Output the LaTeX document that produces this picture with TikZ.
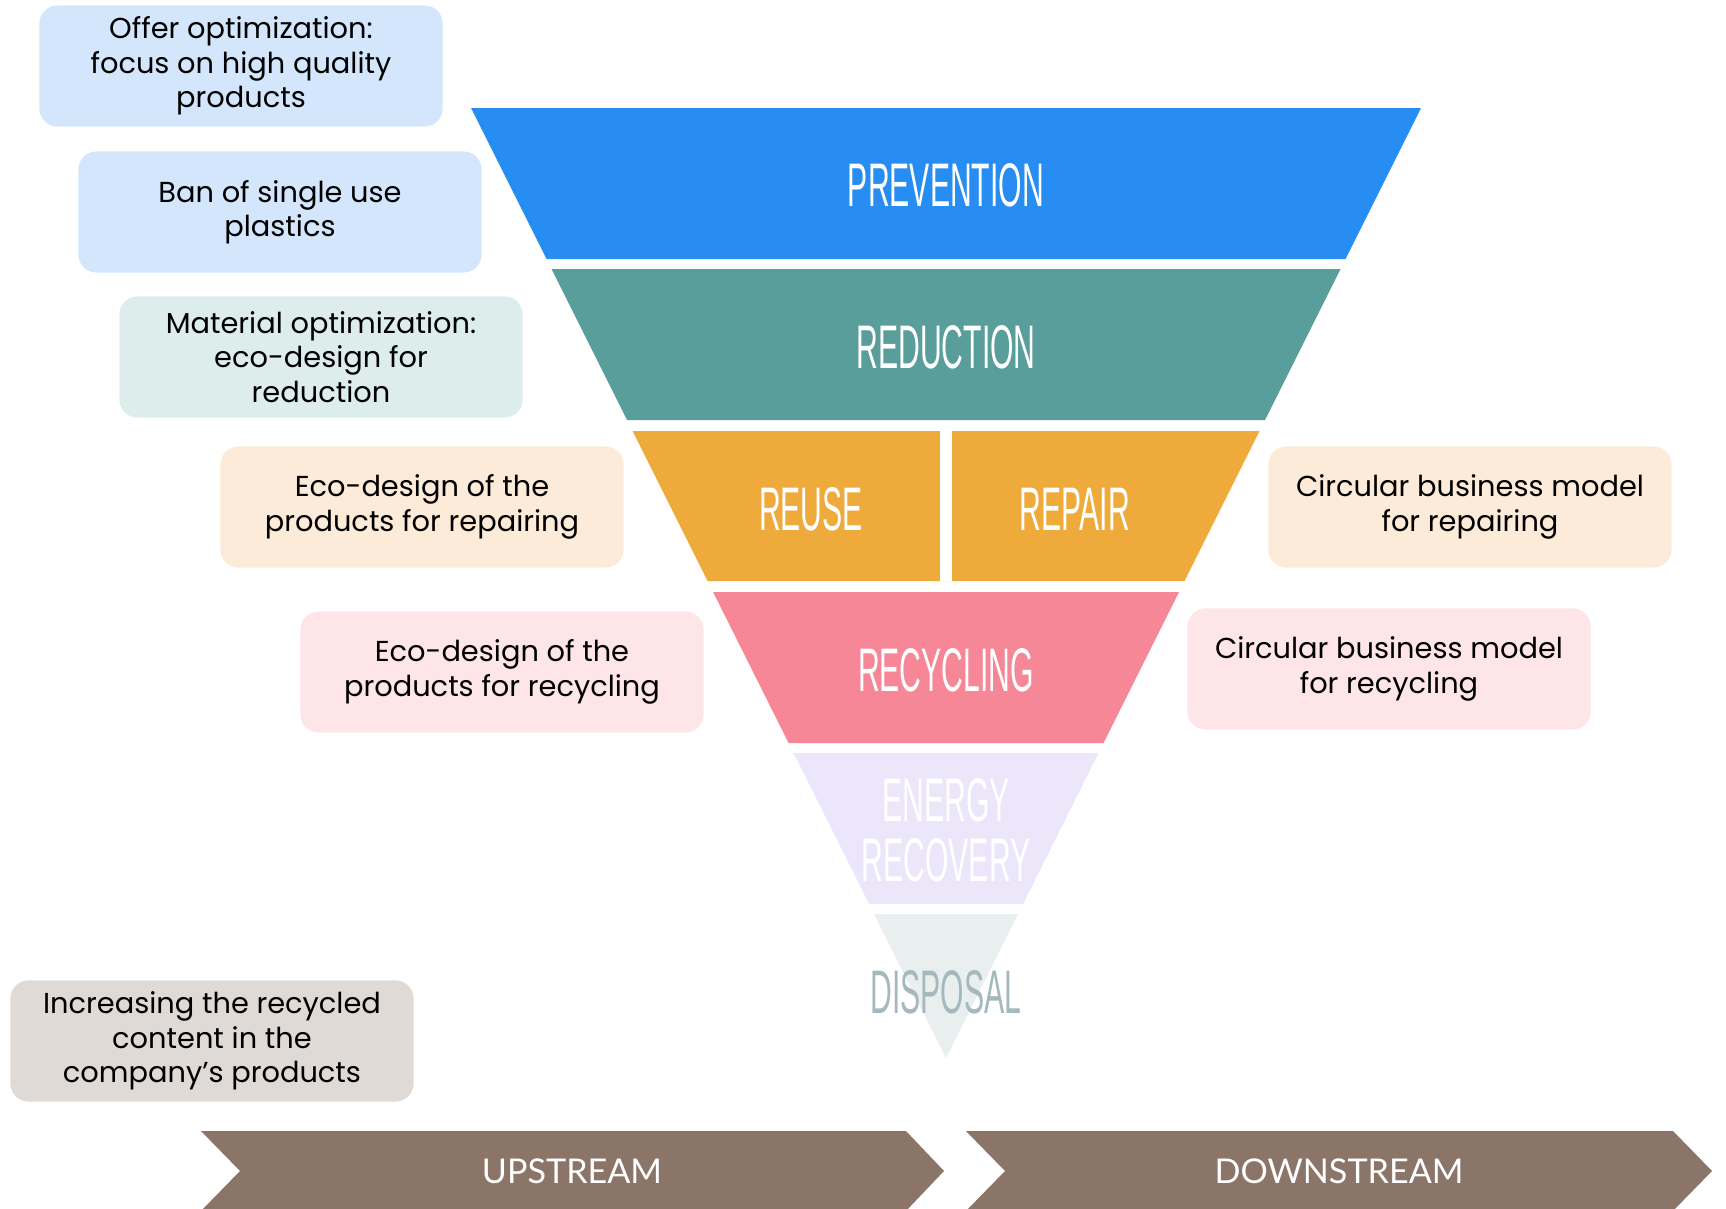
\documentclass[tikz,border=0pt]{standalone}
\usepackage{fontspec}
\setmainfont{Poppins}
\newfontfamily\condfont[FakeStretch=0.49]{Liberation Sans}
\newfontfamily\streamfont{Lato}
\usepackage{tikz}
\usetikzlibrary{calc}
\definecolor{prevblue}{HTML}{278DF2}
\definecolor{redteal}{HTML}{5A9E9B}
\definecolor{reuseorange}{HTML}{EFAA3C}
\definecolor{recpink}{HTML}{F68796}
\definecolor{energylilac}{HTML}{ECE6FB}
\definecolor{dispgrey}{HTML}{E9EEEF}
\definecolor{disptext}{HTML}{A4B8BD}
\definecolor{boxblue}{HTML}{D3E6FB}
\definecolor{boxteal}{HTML}{DDEDEC}
\definecolor{boxorange}{HTML}{FCEBD8}
\definecolor{boxpink}{HTML}{FDE5E8}
\definecolor{boxgrey}{HTML}{DFDAD6}
\definecolor{streambrown}{HTML}{8B7468}
% one band of the funnel, from y=#2 down to y=#3 (apex at 946,1058)
\def\band[#1](#2:#3){\fill[#1] ({946-(1058-#2)/2},#2) -- ({946+(1058-#2)/2},#2) -- ({946+(1058-#3)/2},#3) -- ({946-(1058-#3)/2},#3) -- cycle;}
\tikzset{
	idea/.style={rounded corners=0.18cm, minimum width=4.03cm, minimum height=1.21cm, inner sep=0pt, align=center, text=black, font=\fontsize{8.2}{9.8}\selectfont},
	layer/.style={text=white, align=center, font=\condfont\fontsize{17.5}{17}\selectfont},
	stream/.style={text=white, font=\streamfont\fontsize{9.7}{12}\selectfont}
}

\begin{document}
\begin{tikzpicture}[x=0.01cm, y=-0.01cm]
		%%%%% START %%%%%
		\useasboundingbox (0, 0) rectangle (1726, 1209);
		
		\band[prevblue](108:259)
		\band[redteal](269:420)
		\band[reuseorange](431:581)
		\fill[white] (940, 431) rectangle (952, 581);
		\band[recpink](592:743)
		\band[energylilac](753:904)
		\band[dispgrey](914:1058)
		
		\node[layer] (prevention) at (946, 185) {PREVENTION};
		\node[layer] (reduction) at (946, 347) {REDUCTION};
		\node[layer] (reuse) at (811, 509) {REUSE};
		\node[layer] (repair) at (1075, 509) {REPAIR};
		\node[layer] (recycling) at (946, 670) {RECYCLING};
		\node[layer] (energy) at (946, 830) {ENERGY\\RECOVERY};
		\node[layer, text=disptext] (disposal) at (946, 992) {DISPOSAL};
		
		\node[idea, fill=boxblue] (offer) at (241, 66) {Offer optimization:\\focus on high quality\\products};
		\node[idea, fill=boxblue] (ban) at (280, 212) {Ban of single use\\plastics};
		\node[idea, fill=boxteal] (material) at (321, 357) {Material optimization:\\eco-design for\\reduction};
		\node[idea, fill=boxorange] (ecorepair) at (422, 507) {Eco-design of the\\products for repairing};
		\node[idea, fill=boxpink] (ecorecycle) at (502, 672) {Eco-design of the\\products for recycling};
		\node[idea, fill=boxorange] (circrepair) at (1470, 507) {Circular business model\\for repairing};
		\node[idea, fill=boxpink] (circrecycle) at (1389, 669) {Circular business model\\for recycling};
		\node[idea, fill=boxgrey] (content) at (212, 1041) {Increasing the recycled\\content in the\\company’s products};
		
		\fill[streambrown] (201, 1131) -- (906, 1131) -- (944, 1171) -- (906, 1211) -- (201, 1211) -- (240, 1171) -- cycle;
		\fill[streambrown] (966, 1131) -- (1673, 1131) -- (1712, 1171) -- (1673, 1211) -- (966, 1211) -- (1005, 1171) -- cycle;
		\node[stream] (upstream) at (572, 1171) {UPSTREAM};
		\node[stream] (downstream) at (1339, 1171) {DOWNSTREAM};
		%%%%% END %%%%%
\end{tikzpicture}
\end{document}
